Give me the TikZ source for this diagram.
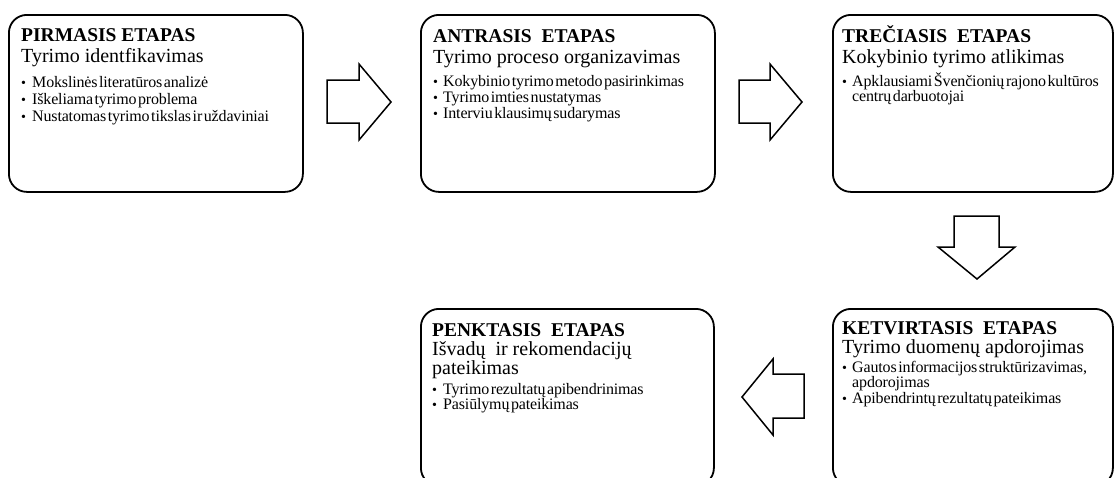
\documentclass[tikz,border=0pt]{standalone}
\usepackage{fontspec}
\setmainfont{Liberation Serif}
\newfontfamily\blfont[WordSpace=0.4,LetterSpace=-1.0]{Liberation Serif}
\tikzset{
  stage/.style={draw, line width=1.8pt, rounded corners=18pt, inner sep=0pt},
  blockarrow/.style={draw, line width=1.5pt, fill=white, line join=miter},
  ttl/.style={anchor=base west, inner sep=0pt, font=\fontsize{19.5}{22}\selectfont\bfseries},
  sub/.style={anchor=base west, inner sep=0pt, font=\fontsize{20}{22}\selectfont},
  itm/.style={anchor=base west, inner sep=0pt, font=\blfont\fontsize{16}{17}\selectfont},
  dot/.style={anchor=base west, inner sep=0pt, font=\fontsize{14}{16}\selectfont},
}
\begin{document}
\begin{tikzpicture}[x=1pt,y=-1pt]
\useasboundingbox (0,0) rectangle (1114,477);
\clip (0,0) rectangle (1114,477);
% boxes
\node[stage, minimum width=294pt, minimum height=177pt, anchor=north west] (b1) at (8,14) {};
\node[stage, minimum width=294pt, minimum height=177pt, anchor=north west] (b2) at (420,14) {};
\node[stage, minimum width=280pt, minimum height=177pt, anchor=north west] (b3) at (832,14) {};
\node[stage, minimum width=293pt, minimum height=177pt, anchor=north west] (b4) at (420,308) {};
\node[stage, minimum width=280pt, minimum height=177pt, anchor=north west] (b5) at (832,308) {};
% box 1
\node[ttl] (t1) at (21,41) {PIRMASIS ETAPAS};
\node[sub] (s1) at (21,62) {Tyrimo identfikavimas};
\node[dot] (d11) at (21,87) {•};
\node[itm] (i11) at (32,87) {Mokslinės literatūros analizė};
\node[dot] (d12) at (21,104) {•};
\node[itm] (i12) at (32,104) {Iškeliama tyrimo problema};
\node[dot] (d13) at (21,121) {•};
\node[itm] (i13) at (32,121) {Nustatomas tyrimo tikslas ir uždaviniai};
% box 2
\node[ttl] (t2) at (433,42) {ANTRASIS\ \ ETAPAS};
\node[sub] (s2) at (433,63) {Tyrimo proceso organizavimas};
\node[dot] (d21) at (433,86) {•};
\node[itm] (i21) at (443,86) {Kokybinio tyrimo metodo pasirinkimas};
\node[dot] (d22) at (433,102) {•};
\node[itm] (i22) at (443,102) {Tyrimo imties nustatymas};
\node[dot] (d23) at (433,118) {•};
\node[itm] (i23) at (443,118) {Interviu klausimų sudarymas};
% box 3
\node[ttl] (t3) at (842,42) {TREČIASIS\ \ ETAPAS};
\node[sub] (s3) at (842,63) {Kokybinio tyrimo atlikimas};
\node[dot] (d31) at (842,86) {•};
\node[itm] (i31) at (852,86) {Apklausiami Švenčionių rajono kultūros};
\node[itm] (i32) at (852,101) {centrų darbuotojai};
% box 4 (penktasis)
\node[ttl] (t4) at (432,336) {PENKTASIS\ \ ETAPAS};
\node[sub] (s4) at (432,355) {Išvadų\ \ ir rekomendacijų};
\node[sub] (s4b) at (432,374) {pateikimas};
\node[dot] (d41) at (432,394) {•};
\node[itm] (i41) at (443,394) {Tyrimo rezultatų apibendrinimas};
\node[dot] (d42) at (432,409) {•};
\node[itm] (i42) at (443,409) {Pasiūlymų pateikimas};
% box 5 (ketvirtasis)
\node[ttl] (t5) at (842,334) {KETVIRTASIS\ \ ETAPAS};
\node[sub] (s5) at (842,353) {Tyrimo duomenų apdorojimas};
\node[dot] (d51) at (842,372) {•};
\node[itm] (i51) at (852,372) {Gautos informacijos struktūrizavimas,};
\node[itm] (i52) at (852,387) {apdorojimas};
\node[dot] (d53) at (842,403) {•};
\node[itm] (i53) at (852,403) {Apibendrintų rezultatų pateikimas};
% block arrows
\draw[blockarrow] (327,80) -- (359,80) -- (359,64) -- (391,102) -- (359,140) -- (359,123) -- (327,123) -- cycle;
\draw[blockarrow] (739,80) -- (770,80) -- (770,64) -- (802,102) -- (770,140) -- (770,123) -- (739,123) -- cycle;
\draw[blockarrow] (954,216) -- (999,216) -- (999,247) -- (1015,247) -- (977,279) -- (938,247) -- (954,247) -- cycle;
\draw[blockarrow] (804,374) -- (773,374) -- (773,359) -- (742,397) -- (773,435) -- (773,418) -- (804,418) -- cycle;
\end{tikzpicture}
\end{document}
